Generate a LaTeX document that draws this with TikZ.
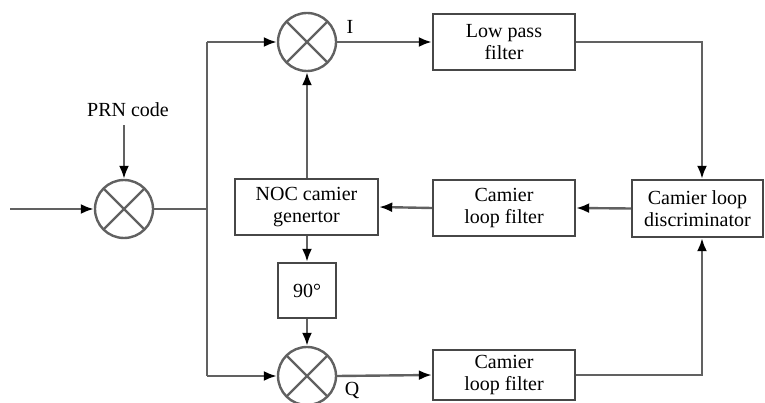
\documentclass[tikz,border=0pt]{standalone}
\usepackage{fontspec}
\setmainfont{Liberation Serif}
\newfontfamily\diagfont{Liberation Serif}
\usetikzlibrary{arrows.meta}
\begin{document}
\begin{tikzpicture}[x=1pt,y=-1pt,
  box/.style={draw=black!72,line width=2.4pt,rectangle,inner sep=0pt,align=center,font=\diagfont\fontsize{20}{22}\selectfont},
  mixer/.style={draw=black!62,line width=2.4pt,circle,minimum size=58pt,inner sep=0pt,
    path picture={\draw[black!62,line width=2.4pt] (path picture bounding box.north west)--(path picture bounding box.south east) (path picture bounding box.north east)--(path picture bounding box.south west);}},
  wire/.style={draw=black!62,line width=2.4pt},
  arr/.style={wire,-{Latex[length=13pt,width=10pt,fill=black,color=black]}},
  lbl/.style={font=\diagfont\fontsize{20}{22}\selectfont,inner sep=0pt}]
\useasboundingbox (0,0) rectangle (765,403);
\node[mixer] (m1) at (124,209) {};
\node[mixer] (mI) at (307,42) {};
\node[mixer] (mQ) at (307,376) {};
\node[box,minimum width=142pt,minimum height=56pt] (lpf) at (504,42) {Low pass\\filter};
\node[box,minimum width=131pt,minimum height=57pt] (disc) at (697.5,208.5) {Camier loop\\discriminator};
\node[box,minimum width=142pt,minimum height=56pt] (clf) at (504,208) {Camier\\loop filter};
\node[box,minimum width=143pt,minimum height=56pt] (noc) at (306.5,207) {NOC camier\\genertor};
\node[box,minimum width=58pt,minimum height=55pt] (ph) at (307,290.5) {90°};
\node[box,minimum width=142pt,minimum height=50pt] (clf2) at (504,375) {Camier\\loop filter};
\node[lbl] (prn) at (128,110) {PRN code};
\node[lbl] (Ilbl) at (350,27) {I};
\node[lbl] (Qlbl) at (352,390) {Q};
\coordinate (in) at (10,209);
\coordinate (sp) at (207,209);
\coordinate (spT) at (207,42);
\coordinate (spB) at (207,376);
\coordinate (rT) at (702,42);
\coordinate (rB) at (702,375);
\draw[arr] (in) -- (m1.west);
\draw[arr] (prn.south -| m1) ++(0,8) -- (m1.north);
\draw[wire] (m1.east) -- (sp);
\draw[wire] (spT) -- (spB);
\draw[arr] (spT) -- (mI.west);
\draw[arr] (spB) -- (mQ.west);
\draw[arr] (mI.east) -- (lpf.west);
\draw[arr] (lpf.east) -- (rT) -- (disc.north -| rT);
\draw[arr] (disc.west) -- (clf.east);
\draw[arr] (clf.west) -- (noc.east);
\draw[arr] (noc.north -| mI) -- (mI.south);
\draw[arr] (noc.south -| ph) -- (ph.north);
\draw[arr] (ph.south) -- (mQ.north);
\draw[arr] (mQ.east) -- (clf2.west);
\draw[arr] (clf2.east) -- (rB) -- (disc.south -| rB);
\end{tikzpicture}
\end{document}
